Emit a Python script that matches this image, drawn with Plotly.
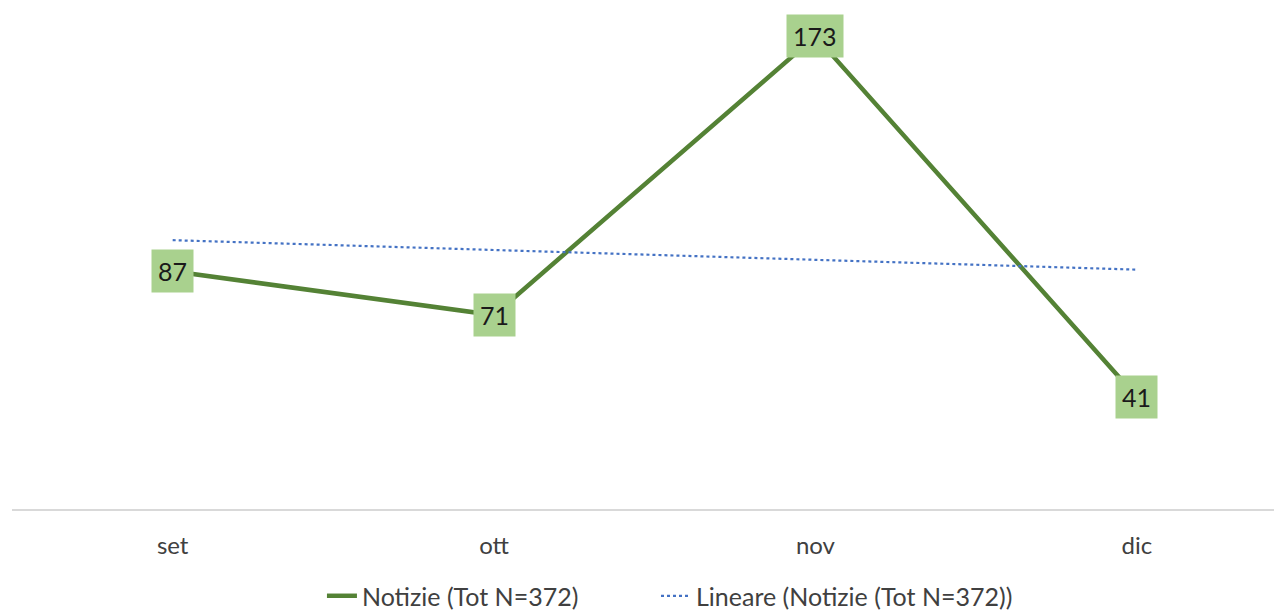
import numpy as np
import plotly.graph_objects as go

months = ["set", "ott", "nov", "dic"]
notizie = [87, 71, 173, 41]
series_name = "Notizie (Tot N=372)"
trend_name = "Lineare (Notizie (Tot N=372))"

xi = np.arange(len(months))
slope, intercept = np.polyfit(xi, notizie, 1)
trend = list(intercept + slope * xi)

FONT = "Lato, 'Open Sans', sans-serif"

fig = go.Figure()
fig.add_trace(go.Scatter(
    x=months, y=notizie, mode="lines", name=series_name,
    line=dict(color="#548235", width=4.5), legend="legend",
))
fig.add_trace(go.Scatter(
    x=months, y=trend, mode="lines", name=trend_name,
    line=dict(color="#4472C4", width=2.2, dash="dot"), legend="legend2",
))

for m, v in zip(months, notizie):
    fig.add_annotation(
        x=m, y=v, text=str(v), showarrow=False,
        font=dict(family=FONT, size=25, color="#1a1a1a"),
        bgcolor="#A9D18E", borderpad=6,
        xanchor="center", yanchor="middle",
    )

legend_common = dict(
    orientation="h", xanchor="left",
    yref="container", y=0.0245, yanchor="middle",
    font=dict(family=FONT, size=25, color="#404040"),
    itemwidth=30, tracegroupgap=0,
)

fig.update_layout(
    width=1274, height=611,
    margin=dict(l=12, r=0, t=0, b=102, autoexpand=False),
    paper_bgcolor="white", plot_bgcolor="white",
    font=dict(family=FONT, size=24, color="#404040"),
    xaxis=dict(
        type="category", range=[-0.5, 3.427], automargin=False,
        showline=True, linecolor="#d9d9d9", linewidth=1.5,
        showgrid=False, ticks="", ticklabelstandoff=14,
        tickfont=dict(family=FONT, size=24, color="#404040"),
        zeroline=False,
    ),
    yaxis=dict(
        range=[0, 186.3], showgrid=False, showticklabels=False,
        zeroline=False, showline=False, automargin=False,
    ),
    legend=dict(x=0.2456, **legend_common),
    legend2=dict(x=0.5103, **legend_common),
    showlegend=True,
)

fig.write_html("out.html", config={"displayModeBar": False},
               post_script="document.body.style.margin='0';")
